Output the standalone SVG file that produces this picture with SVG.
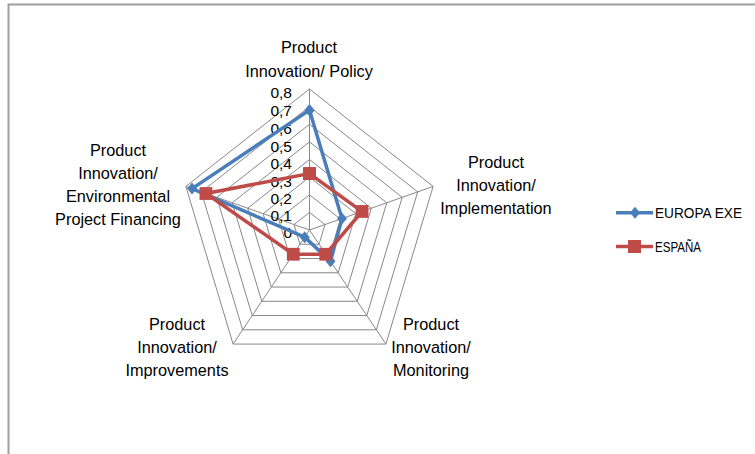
<svg xmlns="http://www.w3.org/2000/svg" width="755" height="454" viewBox="0 0 755 454">
<style>
text{font-family:"Liberation Sans",Arial,sans-serif;font-size:16.3px;fill:#000}
.ax{text-anchor:middle}
.tk{text-anchor:end;font-size:15.5px}
.lg{font-size:15.2px}
.ring{fill:none;stroke:#888;stroke-width:1}
.spoke{stroke:#888;stroke-width:1}
.blue{fill:none;stroke:#4A7EBB;stroke-width:3.5;stroke-linejoin:round}
.red{fill:none;stroke:#BE4B48;stroke-width:3.5;stroke-linejoin:miter}
</style>
<defs>
<marker id="dia" markerUnits="userSpaceOnUse" markerWidth="14" markerHeight="14" refX="7" refY="7" orient="0" overflow="visible">
<polygon points="7,1 12,7 7,13 2,7" fill="#4A7EBB"/>
</marker>
<marker id="sq" markerUnits="userSpaceOnUse" markerWidth="14" markerHeight="14" refX="7" refY="7" orient="0" overflow="visible">
<rect x="0.6" y="0.6" width="12.8" height="12.8" fill="#BE4B48"/>
</marker>
</defs>
<rect x="0" y="0" width="755" height="454" fill="#fff"/>
<g id="frame" fill="none" stroke="#a0a0a0" stroke-width="2">
<path d="M8.5,454 V4.5 H755"/>
</g>
<g id="grid">
<polygon class="ring" points="309.5,212.375 324.955,224.554 319.051,244.259 299.949,244.259 294.045,224.554"/>
<polygon class="ring" points="309.5,194.75 340.41,219.108 328.603,258.518 290.397,258.518 278.59,219.108"/>
<polygon class="ring" points="309.5,177.125 355.865,213.661 338.154,272.776 280.846,272.776 263.135,213.661"/>
<polygon class="ring" points="309.5,159.5 371.32,208.215 347.705,287.035 271.295,287.035 247.68,208.215"/>
<polygon class="ring" points="309.5,141.875 386.775,202.769 357.256,301.294 261.744,301.294 232.225,202.769"/>
<polygon class="ring" points="309.5,124.25 402.23,197.323 366.808,315.553 252.192,315.553 216.77,197.323"/>
<polygon class="ring" points="309.5,106.625 417.685,191.876 376.359,329.811 242.641,329.811 201.315,191.876"/>
<polygon class="ring" points="309.5,89 433.14,186.43 385.91,344.07 233.09,344.07 185.86,186.43"/>
<line class="spoke" x1="309.5" y1="230" x2="309.5" y2="89"/>
<line class="spoke" x1="309.5" y1="230" x2="433.14" y2="186.43"/>
<line class="spoke" x1="309.5" y1="230" x2="385.91" y2="344.07"/>
<line class="spoke" x1="309.5" y1="230" x2="233.09" y2="344.07"/>
<line class="spoke" x1="309.5" y1="230" x2="185.86" y2="186.43"/>
</g>
<g id="ticks">
<text class="tk" x="292" y="98">0,8</text>
<text class="tk" x="292" y="116">0,7</text>
<text class="tk" x="292" y="134">0,6</text>
<text class="tk" x="292" y="152">0,5</text>
<text class="tk" x="292" y="169">0,4</text>
<text class="tk" x="292" y="187">0,3</text>
<text class="tk" x="292" y="204">0,2</text>
<text class="tk" x="292" y="221">0,1</text>
<text class="tk" x="292" y="237.5">0</text>
</g>
<g id="label-policy">
<text class="ax" x="309" y="53">Product</text>
<text class="ax" x="309" y="77">Innovation/ Policy</text>
</g>
<g id="label-implementation">
<text class="ax" x="496" y="168">Product</text>
<text class="ax" x="496" y="191">Innovation/</text>
<text class="ax" x="496" y="214">Implementation</text>
</g>
<g id="label-monitoring">
<text class="ax" x="431" y="330">Product</text>
<text class="ax" x="431" y="353">Innovation/</text>
<text class="ax" x="431" y="376">Monitoring</text>
</g>
<g id="label-improvements">
<text class="ax" x="177" y="330">Product</text>
<text class="ax" x="177" y="353">Innovation/</text>
<text class="ax" x="177" y="376">Improvements</text>
</g>
<g id="label-environmental">
<text class="ax" x="118" y="156">Product</text>
<text class="ax" x="118" y="179">Innovation/</text>
<text class="ax" x="118" y="202">Environmental</text>
<text class="ax" x="118" y="225">Project Financing</text>
</g>
<g id="series">
<polygon id="series-europa" class="blue" points="309.5,110.15 341.96,218.56 330.51,261.37 304.72,237.13 192.04,188.6" marker-start="url(#dia)" marker-mid="url(#dia)" marker-end="url(#dia)"/>
<polygon id="series-espana" class="red" points="309.5,173.6 362.05,211.48 325.74,254.24 293.26,254.24 205.95,193.51" marker-start="url(#sq)" marker-mid="url(#sq)" marker-end="url(#sq)"/>
</g>
<g id="legend">
<g id="legend-europa">
<line x1="616" y1="212.7" x2="653" y2="212.7" stroke="#4A7EBB" stroke-width="3.5"/>
<polygon points="635,206.7 640,212.7 635,218.7 630,212.7" fill="#4A7EBB"/>
<text class="lg" x="655" y="218.3" textLength="87" lengthAdjust="spacingAndGlyphs">EUROPA EXE</text>
</g>
<g id="legend-espana">
<line x1="616" y1="246.5" x2="653" y2="246.5" stroke="#BE4B48" stroke-width="3.5"/>
<rect x="628" y="240" width="13" height="13" fill="#BE4B48"/>
<text class="lg" x="655" y="252" textLength="46" lengthAdjust="spacingAndGlyphs">ESPAÑA</text>
</g>
</g>
</svg>
